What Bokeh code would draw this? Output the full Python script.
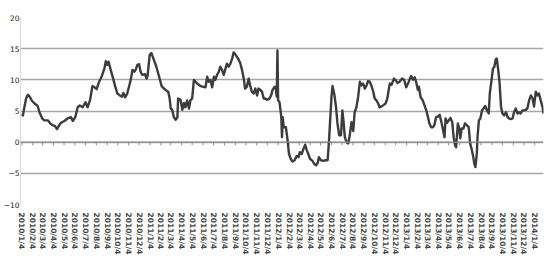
import datetime as dt
from bokeh.plotting import figure
from bokeh.models import Range1d, FixedTicker, Span
from bokeh.embed import file_html
from bokeh.resources import INLINE

# ---- data ----
start_date = dt.date(2010, 1, 4)
day_offsets = [
    0, 3, 8, 12, 17, 22, 29, 36, 45, 50, 58, 64, 74, 81, 88, 94, 100, 105, 111, 121,
    130, 140, 145, 152, 159, 165, 173, 181, 187, 194, 201, 207, 213, 220, 227, 235, 239, 243, 247, 253,
    260, 266, 272, 279, 285, 289, 294, 300, 306, 310, 315, 320, 324, 329, 334, 338, 343, 351, 355, 358,
    364, 369, 376, 383, 391, 398, 405, 411, 417, 421, 424, 428, 433, 438, 443, 445, 452, 457, 462, 466,
    471, 476, 480, 485, 490, 499, 509, 523, 528, 532, 537, 542, 547, 551, 556, 561, 565, 570, 575, 580,
    584, 589, 594, 599, 603, 608, 616, 622, 627, 632, 636, 641, 646, 651, 655, 660, 665, 670, 674, 679,
    684, 689, 693, 698, 704, 710, 714, 720, 723, 726, 728, 730, 734, 739, 741, 743, 746, 752, 757, 761,
    766, 771, 777, 783, 788, 792, 797, 802, 807, 811, 816, 821, 828, 833, 838, 843, 846, 852, 859, 865,
    871, 875, 879, 882, 885, 890, 895, 899, 904, 909, 913, 916, 920, 925, 930, 934, 939, 944, 948, 953,
    958, 963, 967, 972, 977, 982, 986, 991, 996, 1001, 1005, 1010, 1015, 1019, 1024, 1029, 1036, 1041, 1048, 1053,
    1060, 1064, 1070, 1076, 1083, 1089, 1095, 1100, 1104, 1109, 1114, 1119, 1123, 1128, 1131, 1136, 1142, 1147, 1152, 1157,
    1161, 1166, 1171, 1175, 1180, 1185, 1190, 1194, 1199, 1204, 1207, 1211, 1216, 1221, 1226, 1230, 1234, 1237, 1242, 1246,
    1249, 1253, 1258, 1262, 1268, 1273, 1277, 1282, 1286, 1289, 1292, 1296, 1298, 1302, 1306, 1311, 1315, 1320, 1325, 1330,
    1333, 1338, 1342, 1346, 1350, 1353, 1357, 1361, 1365, 1369, 1374, 1379, 1384, 1388, 1393, 1398, 1402, 1407, 1412, 1417,
    1421, 1426, 1431, 1436, 1440, 1445, 1450, 1455, 1459, 1464, 1469, 1473, 1478, 1483, 1486,
]
values = [
    4.5, 4.3, 5.9, 7.0, 7.6, 7.3, 6.6, 6.2, 5.8, 4.8, 3.8, 3.5, 3.5, 3.0, 2.7, 2.6, 2.1, 2.6, 3.1, 3.4,
    3.8, 4.0, 3.4, 4.0, 5.6, 5.9, 5.6, 6.4, 5.6, 6.7, 9.0, 8.8, 8.5, 9.7, 10.5, 11.8, 13.0, 12.4, 12.9, 11.6,
    10.2, 8.9, 7.8, 7.5, 7.3, 7.9, 7.2, 7.8, 9.1, 10.0, 11.6, 11.3, 11.6, 12.4, 12.5, 11.3, 10.8, 10.9, 10.2, 10.6,
    14.0, 14.3, 13.2, 12.1, 10.5, 9.0, 8.6, 8.3, 8.1, 7.0, 5.4, 5.2, 4.0, 3.6, 4.0, 7.0, 6.8, 5.2, 6.3, 5.6,
    6.7, 5.4, 6.7, 7.0, 10.0, 9.4, 9.0, 8.8, 10.5, 9.7, 10.0, 8.8, 10.5, 10.0, 10.8, 11.3, 12.1, 11.6, 10.8, 11.8,
    12.6, 12.1, 12.6, 13.4, 14.4, 14.1, 13.4, 12.7, 11.6, 10.2, 8.6, 8.9, 10.2, 8.9, 8.1, 7.8, 8.6, 7.5, 8.6, 8.4,
    8.1, 7.0, 7.0, 6.8, 6.9, 7.5, 8.4, 8.9, 8.6, 7.3, 14.7, 6.7, 6.4, 4.0, 0.8, 4.0, 2.4, 2.4, 0.3, -1.9,
    -2.7, -3.1, -2.9, -2.2, -2.4, -1.6, -1.9, -1.1, -0.4, -1.2, -1.9, -2.7, -3.0, -3.5, -3.7, -3.3, -2.4, -2.9, -3.0, -2.9,
    -2.9, 0.3, 4.3, 7.3, 9.0, 7.7, 5.6, 3.0, 1.1, 1.1, 5.1, 3.5, 0.8, 0.0, -0.2, 1.1, 3.2, 1.8, 4.8, 5.6,
    7.3, 9.7, 9.1, 9.4, 8.6, 9.1, 9.8, 9.7, 9.0, 8.1, 7.0, 6.7, 6.2, 5.6, 5.7, 5.9, 6.2, 7.0, 9.4, 9.2,
    10.2, 10.0, 9.5, 9.7, 10.2, 10.0, 8.8, 9.4, 10.0, 10.6, 10.0, 10.4, 9.7, 8.4, 8.9, 7.2, 6.7, 5.9, 5.1, 4.0,
    3.0, 2.4, 2.4, 2.7, 4.0, 4.1, 4.4, 3.5, 2.2, 0.8, 3.8, 3.1, 3.5, 3.9, 3.2, 0.8, -0.5, -0.8, 3.0, 2.2,
    0.6, 2.2, 2.2, 3.0, 2.7, 2.4, -0.2, -1.3, -2.4, -3.5, -4.0, -1.9, 0.8, 3.5, 3.8, 5.1, 5.4, 5.8, 5.1, 4.6,
    7.8, 10.0, 11.8, 12.1, 13.3, 13.4, 11.6, 9.4, 5.7, 4.6, 4.3, 4.8, 4.0, 3.8, 3.7, 3.8, 4.8, 5.4, 4.6, 4.8,
    4.6, 5.1, 5.1, 5.2, 5.4, 6.7, 7.5, 7.0, 5.7, 8.1, 7.5, 7.8, 6.7, 5.7, 4.6,
]
label_dates = [dt.date(2010 + m // 12, m % 12 + 1, 4) for m in range(49)]
tick_labels = [f"{d.year}/{d.month}/{d.day}" for d in label_dates]
tick_days = [(d - start_date).days for d in label_dates]
y_ticks = [-10, -5, 0, 5, 10, 15, 20]

p = figure(width=550, height=266, output_backend="svg", toolbar_location=None,
           x_range=Range1d(-4, 1486), y_range=Range1d(-10, 20),
           min_border_left=0, min_border_right=7, min_border_top=17, min_border_bottom=62)
p.outline_line_color = None
p.background_fill_color = "white"
p.border_fill_color = "white"

# grid
p.xgrid.grid_line_color = None
p.ygrid.ticker = FixedTicker(ticks=y_ticks)
p.ygrid.grid_line_color = "#a6a6a6"
p.ygrid.grid_line_width = 1.3

# y axis
p.yaxis.ticker = FixedTicker(ticks=y_ticks)
p.yaxis.axis_line_color = "#d9d9d9"
p.yaxis.major_tick_line_color = None
p.yaxis.minor_tick_line_color = None
p.yaxis.major_tick_out = 0
p.yaxis.major_tick_in = 0
p.yaxis.minor_tick_out = 0
p.yaxis.major_label_text_font = "DejaVu Sans"
p.yaxis.major_label_text_font_size = "7.5px"
p.yaxis.major_label_text_color = "#222222"
p.yaxis.major_label_standoff = 1

# x axis (labels at bottom)
p.xaxis.ticker = FixedTicker(ticks=tick_days)
p.xaxis.major_label_overrides = {d: lab for d, lab in zip(tick_days, tick_labels)}
p.xaxis.major_label_orientation = "vertical"
p.xaxis.axis_line_color = None
p.xaxis.major_tick_line_color = None
p.xaxis.minor_tick_line_color = None
p.xaxis.major_tick_out = 0
p.xaxis.major_tick_in = 0
p.xaxis.minor_tick_out = 0
p.xaxis.major_label_text_font = "DejaVu Sans"
p.xaxis.major_label_text_font_size = "7.5px"
p.xaxis.major_label_text_font_style = "bold"
p.xaxis.major_label_text_color = "#444444"
p.xaxis.major_label_standoff = 8

# zero line with tick marks
p.add_layout(Span(location=0, dimension="width", line_color="#8c8c8c", line_width=1.3))
p.segment(x0=tick_days, y0=[0] * len(tick_days), x1=tick_days, y1=[-0.5] * len(tick_days),
          line_color="#8c8c8c", line_width=1)

# series
p.line(day_offsets, values, line_color="#3c3c3c", line_width=2.4, line_join="round")

open("out.html", "w").write(file_html(p, INLINE))
